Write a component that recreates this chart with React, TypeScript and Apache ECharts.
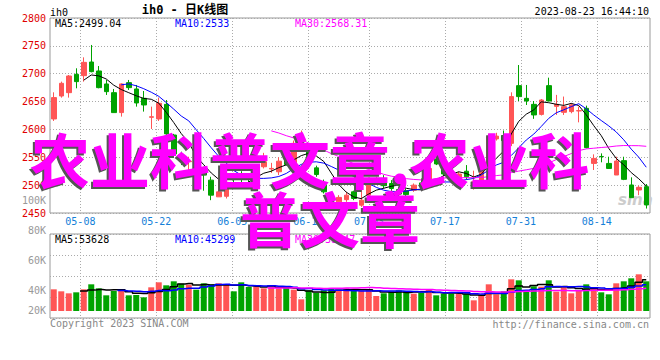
import React, { useEffect, useRef } from 'react';
import * as echarts from 'echarts';

const dates = ['04-27','04-28','05-04','05-05','05-08','05-09','05-10','05-11','05-12','05-15','05-16','05-17','05-18','05-19','05-22','05-23','05-24','05-25','05-26','05-29','05-30','05-31','06-01','06-02','06-05','06-06','06-07','06-08','06-09','06-12','06-13','06-14','06-15','06-16','06-19','06-20','06-21','06-26','06-27','06-28','06-29','06-30','07-03','07-04','07-05','07-06','07-07','07-10','07-11','07-12','07-13','07-14','07-17','07-18','07-19','07-20','07-21','07-24','07-25','07-26','07-27','07-28','07-31','08-01','08-02','08-03','08-04','08-07','08-08','08-09','08-10','08-11','08-14','08-15','08-16','08-17','08-18','08-21','08-22','08-23'];

const labelDates = ['05-08','05-22','06-05','06-19','07-03','07-17','07-31','08-14'];

const opens = [2618.8,2660.0,2666.0,2698.9,2696.5,2721.0,2704.9,2681.6,2666.0,2630.2,
  2684.0,2672.6,2655.9,2621.8,2618.8,2645,2590,2551,2542,2552,
  2528,2509,2479,2480,2519,2519,2516,2512,2533,2529,
  2524,2549,2540,2572,2560,2531,2503,2480,2470,2474,
  2488,2464,2482,2508,2511,2503,2492,2490,2491,2504,
  2500,2547,2529,2524,2510,2525,2495,2497,2536,2583,
  2589,2575,2678.6,2655.8,2645,2627,2678.6,2641.4,2630.7,2632,
  2633.2,2637.9,2539,2551.5,2539,2518.2,2544,2500.3,2491.3,2497.3];

const closes = [2657.1,2682.8,2695.9,2685.8,2720.4,2703.7,2675.0,2667.8,2630.2,2681.6,
  2675.0,2647.5,2643.9,2622.8,2646.9,2592,2556,2545,2543,2521,
  2518,2482,2488,2505,2512,2511,2512,2530,2542,2530,
  2543,2537,2575,2580,2551,2519,2488,2470,2478,2482,
  2476,2473,2512,2512,2499,2494,2484,2483,2500,2497,
  2530,2538,2520,2512,2520,2515,2506,2545,2587,2588,
  2580,2658.9,2658.9,2651,2626,2652.8,2651,2645,2640.9,2644,
  2633.7,2567.3,2548,2551,2530,2543.3,2510.4,2477.5,2496.1,2464.4];

const lows = [2615.2,2657.1,2657.1,2673.8,2685.8,2702.5,2673.8,2661.9,2630.2,2623.0,
  2670.8,2640.9,2632.0,2600.8,2615.2,2588,2552,2536,2515,2518,
  2490,2473,2479,2476,2500,2505,2494,2508,2530,2522,
  2518,2535,2538,2565,2540,2515,2485,2462,2465,2470,
  2473,2461,2480,2505,2494,2482,2478,2478,2488,2490,
  2497,2536,2516,2505,2505,2510,2492,2494,2530,2580,
  2573,2570,2651,2643.9,2619,2625,2651,2626,2626,2629,
  2612.7,2566,2527.2,2541,2529,2518.2,2509,2477.5,2482,2458];

const highs = [2666.6,2685.8,2697.7,2709.7,2729.4,2751.6,2713.8,2688.8,2672.6,2682.8,
  2688.8,2679.8,2669.0,2640.9,2657.1,2652.8,2592,2560,2551,2556,
  2533,2515,2518,2510,2522,2525,2520,2534,2558,2540,
  2550,2563,2580,2598,2566,2535,2510,2485,2482,2488,
  2490,2494,2514,2515,2518,2509,2496,2494,2503,2512,
  2550,2551,2548,2530,2524,2536,2526,2548,2592,2594,
  2598,2666.6,2715.6,2679.8,2651,2654.6,2692.9,2662,2659,2647,
  2641,2642.7,2555.3,2557,2551,2551,2551,2514,2499,2502];

const volumes = [37180,33748,30316,32032,37180,45760,38896,26884,34320,37180,
  26884,27456,23452,40612,49192,44044,50908,46904,45188,36608,
  47476,45760,47476,45760,33748,49192,41184,42328,38896,41756,
  38896,40040,36608,20020,35464,31460,35464,38896,36608,38896,
  34320,34320,37180,25740,30316,33176,35464,34320,29744,31460,
  37180,26884,29744,29744,29172,29744,18304,27456,45760,28600,
  33748,54340,52624,35464,42328,41756,52624,33176,41184,30316,
  35464,45760,40040,32032,28600,47476,50908,56056,62920,50908];

const priceLegend = ['MA5:2499.04', 'MA10:2533', 'MA30:2568.31'];
const volLegend = ['MA5:53628', 'MA10:45299', 'MA30:38447'];
const volTickLabels = ['100K', '80K', '60K', '40K', '20K'];
const maPeriods = [5, 10, 30];
const maColors = ['#000000', '#0000ff', '#ff00ff'];
const watermarkLines = ['农业科普文章,农业科', '普文章'];

const RED = '#ff5555';
const GREEN = '#00a300';
const MONO = '"DejaVu Sans Mono", "Noto Sans CJK SC", monospace';

function movingAverage(arr: number[], n: number) {
  return arr.map((_, i) => {
    if (i < n - 1) return '-';
    let s = 0;
    for (let k = i - n + 1; k <= i; k++) s += arr[k];
    return +(s / n).toFixed(2);
  });
}

function txt(text: string, x: number, y: number, fill: string, extra: any = {}) {
  const align = extra.align || 'left';
  return {
    type: 'text',
    z: extra.z ?? 50,
    silent: true,
    style: {
      text, x, y, fill,
      font: extra.font || `10px ${MONO}`,
      align, textAlign: align,
      verticalAlign: 'middle', textVerticalAlign: 'middle',
    },
  };
}

export default function App() {
  const ref = useRef<HTMLDivElement>(null);
  useEffect(() => {
    const chart = echarts.init(ref.current!, null, { renderer: 'svg' });
    const isLabel = (_i: number, v: string) => labelDates.includes(v);
    const dotted = { color: '#aaaaaa', width: 1, type: [1, 2] as any };

    const legendX = [55, 175, 295];
    const graphics: any[] = [];
    graphics.push(txt('ih0', 50, 12, '#000', { font: `10px ${MONO}` }));
    graphics.push(txt('ih0 - 日K线图', 185, 9.5, '#000', { align: 'center', font: `bold 12px ${MONO}` }));
    graphics.push(txt('2023-08-23 16:44:10', 649, 11.5, '#000', { align: 'right' }));
    priceLegend.forEach((t, i) => graphics.push(txt(t, legendX[i], 23.5, maColors[i])));
    volLegend.forEach((t, i) => graphics.push(txt(t, legendX[i], 239, maColors[i])));
    const volLabelY = [200, 230.5, 260.7, 290.7, 310.7];
    volTickLabels.forEach((t, i) => graphics.push(txt(t, 46, volLabelY[i], '#999', { align: 'right' })));
    graphics.push(txt('Copyright 2023 SINA.COM', 50, 323.5, '#888'));
    graphics.push(txt('http://finance.sina.com.cn', 649, 324, '#888', { align: 'right' }));
    graphics.push(txt('sina', 618, 200, '#cccccc', { z: 1, font: 'italic bold 15px "DejaVu Sans", sans-serif' }));

    const wmFont = 'bold 60px "Noto Sans CJK SC", sans-serif';
    const wmPos = [[30, 157], [240, 216]];
    watermarkLines.forEach((t, i) => {
      graphics.push(txt(t, wmPos[i][0] - 2, wmPos[i][1] + 2, '#555555', { z: 100, font: wmFont }));
    });
    watermarkLines.forEach((t, i) => {
      graphics.push(txt(t, wmPos[i][0], wmPos[i][1], '#ff00ff', { z: 101, font: wmFont }));
    });

    const option: any = {
      animation: false,
      backgroundColor: '#ffffff',
      grid: [
        { left: 50, top: 18, width: 600, height: 195, show: true, borderColor: '#999', borderWidth: 1, backgroundColor: 'transparent' },
        { left: 50, top: 234, width: 600, height: 84, show: true, borderColor: '#999', borderWidth: 1, backgroundColor: 'transparent' },
      ],
      xAxis: [
        { type: 'category', gridIndex: 0, data: dates, boundaryGap: true, show: false, position: 'bottom' },
        {
          type: 'category', gridIndex: 0, data: dates, boundaryGap: false, position: 'bottom',
          axisLine: { show: false }, axisTick: { show: false },
          axisLabel: { interval: isLabel, color: '#1480d8', fontFamily: MONO, fontSize: 10, margin: 3 },
          splitLine: { show: true, interval: isLabel, lineStyle: dotted },
        },
        { type: 'category', gridIndex: 1, data: dates, boundaryGap: true, show: false, position: 'bottom' },
        {
          type: 'category', gridIndex: 1, data: dates, boundaryGap: false, position: 'bottom',
          axisLine: { show: false }, axisTick: { show: false }, axisLabel: { show: false },
          splitLine: { show: true, interval: isLabel, lineStyle: dotted },
        },
      ],
      yAxis: [
        {
          type: 'value', gridIndex: 0, min: 2450, max: 2800, interval: 50, position: 'left',
          axisLine: { show: false }, axisTick: { show: false },
          axisLabel: { color: '#e00000', fontFamily: MONO, fontSize: 10, margin: 4, formatter: (v: number) => String(v) },
          splitLine: { show: true, lineStyle: dotted },
        },
        { type: 'value', gridIndex: 1, min: -12005, max: 132055, show: false, position: 'left' },
        {
          type: 'value', gridIndex: 1, min: 0, max: 4, interval: 1, position: 'left',
          axisLine: { show: false }, axisTick: { show: false }, axisLabel: { show: false },
          splitLine: { show: true, lineStyle: dotted },
        },
      ],
      series: [
        {
          type: 'candlestick', xAxisIndex: 0, yAxisIndex: 0, barWidth: 5,
          data: dates.map((_, i) => [opens[i], closes[i], lows[i], highs[i]]),
          itemStyle: { color: RED, color0: GREEN, borderColor: RED, borderColor0: GREEN, borderWidth: 1 },
          silent: true,
        },
        ...maPeriods.map((n, k) => ({
          type: 'line', xAxisIndex: 0, yAxisIndex: 0, symbol: 'none', silent: true,
          data: movingAverage(closes, n),
          lineStyle: { color: maColors[k], width: 1 },
        })),
        {
          type: 'bar', xAxisIndex: 2, yAxisIndex: 1, barWidth: 6, silent: true,
          data: volumes.map((v, i) => ({ value: v, itemStyle: { color: closes[i] >= opens[i] ? RED : GREEN } })),
        },
        ...maPeriods.map((n, k) => ({
          type: 'line', xAxisIndex: 2, yAxisIndex: 1, symbol: 'none', silent: true, step: 'middle',
          data: movingAverage(volumes, n),
          lineStyle: { color: maColors[k], width: 1.5 },
        })),
      ],
      graphic: { elements: graphics },
    };
    chart.setOption(option);
    return () => chart.dispose();
  }, []);
  return <div ref={ref} style={{ position: 'absolute', left: 0, top: 0, width: 660, height: 360 }} />;
}
